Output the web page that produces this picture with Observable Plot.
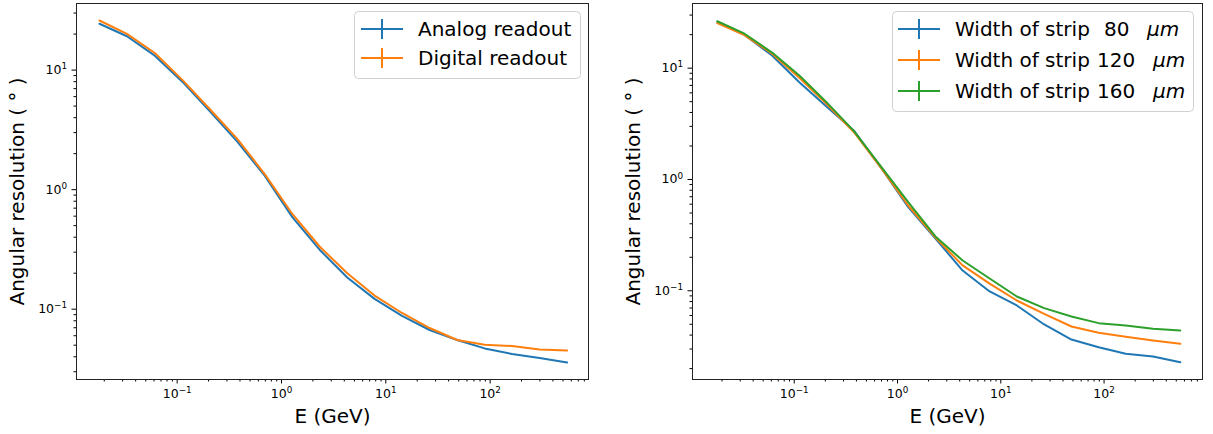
<!DOCTYPE html>
<html>
<head>
<meta charset="utf-8">
<script src="https://cdn.jsdelivr.net/npm/d3@7"></script>
<script src="https://cdn.jsdelivr.net/npm/@observablehq/plot@0.6"></script>
<style>
  html, body { margin: 0; padding: 0; background: #fff; }
  #wrap { position: relative; width: 1213px; height: 434px; overflow: hidden; font-family: "DejaVu Sans", sans-serif; }
  #wrap > .panel { position: absolute; top: 0; }
  #legend { position: absolute; left: 0; top: 0; pointer-events: none; }
</style>
</head>
<body>
<div id="wrap"></div>
<script>
// ---- data ----
const energy = [0.018, 0.033, 0.061, 0.112, 0.205, 0.377, 0.69, 1.27, 2.33, 4.27, 7.8, 14.3, 26.3, 48.3, 88.6, 162, 298, 547];
const analog  = [24.4, 19.2, 13.2, 8.0, 4.54, 2.52, 1.31, 0.589, 0.313, 0.184, 0.122, 0.088, 0.067, 0.0553, 0.047, 0.0422, 0.0391, 0.0359];
const digital = [26.0, 20.1, 13.9, 8.28, 4.73, 2.66, 1.35, 0.626, 0.333, 0.200, 0.130, 0.093, 0.0696, 0.0553, 0.0505, 0.0492, 0.0461, 0.0452];
const strip80  = [25.9, 19.9, 13.0, 7.48, 4.53, 2.76, 1.28, 0.564, 0.295, 0.152, 0.0986, 0.0738, 0.0498, 0.0365, 0.0311, 0.0272, 0.0257, 0.0228];
const strip120 = [25.4, 19.8, 13.5, 8.2, 4.79, 2.67, 1.28, 0.584, 0.301, 0.169, 0.116, 0.0818, 0.0621, 0.0478, 0.042, 0.0386, 0.0357, 0.0334];
const strip160 = [26.4, 20.4, 13.8, 8.6, 4.95, 2.73, 1.31, 0.625, 0.308, 0.187, 0.129, 0.0889, 0.0698, 0.0588, 0.0512, 0.0488, 0.0456, 0.044];

const xMajor = [0.1, 1, 10, 100];
const xMajorLabels = ["10^\u22121", "10^0", "10^1", "10^2"];
const yMajor = [0.1, 1, 10];
const yMajorLabels = ["10^\u22121", "10^0", "10^1"];

const leftNames = ["Analog readout", "Digital readout"];
const rightWidths = ["80", "120", "160"];
const colors = ["#1f77b4", "#ff7f0e", "#2ca02c"];

const xLabel = "E (GeV)";
const yLabel = "Angular resolution ( \u00B0 )";

// minor log ticks
function minors(lo, hi) {
  const out = [];
  for (let e = -3; e <= 3; e++) for (let m = 2; m <= 9; m++) {
    const v = m * Math.pow(10, e);
    if (v >= lo && v <= hi) out.push(v);
  }
  return out;
}
function labelFor(ticks, labels) { return d => labels[ticks.findIndex(t => Math.abs(t - d) / t < 1e-9)]; }

function panel({width, marginLeft, marginRight, xDomain, yDomain, series, ylabelDx}) {
  const rows = [];
  series.forEach((s, si) => energy.forEach((e, i) => rows.push({e, v: s.values[i], k: si})));
  const svg = Plot.plot({
    width, height: 434,
    marginLeft, marginRight, marginTop: 3, marginBottom: 55,
    style: {fontFamily: "'DejaVu Sans', sans-serif", fontSize: "12.5px", color: "#000", background: "transparent", overflow: "visible"},
    x: {type: "log", domain: xDomain},
    y: {type: "log", domain: yDomain},
    marks: [
      Plot.axisX({ticks: minors(xDomain[0], xDomain[1]), tickSize: 2.5, tickFormat: () => "", label: null, anchor: "bottom"}),
      Plot.axisX({ticks: xMajor, tickSize: 4.5, tickPadding: 5, tickFormat: labelFor(xMajor, xMajorLabels), label: null, anchor: "bottom", fontSize: 12.5}),
      Plot.axisY({ticks: minors(yDomain[0], yDomain[1]), tickSize: 2.5, tickFormat: () => "", label: null, anchor: "left"}),
      Plot.axisY({ticks: yMajor, tickSize: 4.5, tickPadding: 5, tickFormat: labelFor(yMajor, yMajorLabels), label: null, anchor: "left", fontSize: 12.5}),
      ...series.map((s, si) => Plot.line(rows.filter(r => r.k === si), {x: "e", y: "v", stroke: s.color, strokeWidth: 2})),
      Plot.frame({stroke: "#222", strokeWidth: 1}),
      Plot.text([xLabel], {frameAnchor: "bottom", lineAnchor: "middle", textAnchor: "middle", dy: 37, fontSize: 20, fill: "#000"}),
      Plot.text([yLabel], {frameAnchor: "left", lineAnchor: "middle", textAnchor: "middle", rotate: -90, dx: ylabelDx, fontSize: 20, fill: "#000"})
    ]
  });
  // turn "10^k" tick labels into base + superscript
  d3.select(svg).selectAll("text").each(function() {
    const txt = this.textContent;
    const m = /^10\^(.+)$/.exec(txt);
    if (!m) return;
    const sel = d3.select(this);
    sel.text(null);
    sel.append("tspan").text("10");
    sel.append("tspan").attr("font-size", "8.8px").attr("dy", "-0.55em").text(m[1]);
  });
  return svg;
}

const wrap = document.getElementById("wrap");

const left = panel({
  width: 606, marginLeft: 76, marginRight: 18,
  xDomain: [Math.pow(10, -1.965), Math.pow(10, 2.943)],
  yDomain: [Math.pow(10, -1.588), Math.pow(10, 1.557)],
  series: [{values: analog, color: colors[0]}, {values: digital, color: colors[1]}],
  ylabelDx: -59
});
left.classList.add("panel");
left.style.left = "0px";
wrap.appendChild(left);

const right = panel({
  width: 607, marginLeft: 86, marginRight: 11,
  xDomain: [Math.pow(10, -1.985), Math.pow(10, 2.953)],
  yDomain: [Math.pow(10, -1.797), Math.pow(10, 1.581)],
  series: [{values: strip80, color: colors[0]}, {values: strip120, color: colors[1]}, {values: strip160, color: colors[2]}],
  ylabelDx: -58.5
});
right.classList.add("panel");
right.style.left = "606px";
wrap.appendChild(right);

// ---- legends ----
const svg = d3.select(wrap).append("svg").attr("id", "legend").attr("width", 1213).attr("height", 434)
  .style("font-family", "'DejaVu Sans', sans-serif");

function legendBox(x0, y0, x1, y1) {
  svg.append("rect").attr("x", x0 + 0.5).attr("y", y0 + 0.5).attr("width", x1 - x0).attr("height", y1 - y0)
    .attr("rx", 4).attr("fill", "#fff").attr("fill-opacity", 0.8).attr("stroke", "#d0d0d0").attr("stroke-width", 1);
}
function handle(x0, x1, y, color) {
  const g = svg.append("g").attr("stroke", color).attr("stroke-width", 2);
  g.append("line").attr("x1", x0).attr("x2", x1).attr("y1", y).attr("y2", y);
  const cx = (x0 + x1) / 2;
  g.append("line").attr("x1", cx).attr("x2", cx).attr("y1", y - 10).attr("y2", y + 10);
}

// left legend
legendBox(354, 11, 580, 78);
[29, 58].forEach((y, i) => {
  handle(361, 403, y, colors[i]);
  svg.append("text").attr("x", 418).attr("y", y).attr("dy", "0.35em").attr("font-size", 20).attr("fill", "#000").text(leftNames[i]);
});

// right legend
legendBox(892, 11, 1193, 111);
[29, 60, 91].forEach((y, i) => {
  handle(898, 940, y, colors[i]);
  const t = svg.append("text").attr("y", y).attr("dy", "0.35em").attr("font-size", 20).attr("fill", "#000");
  t.append("tspan").attr("x", 955).text("Width of strip");
  t.append("tspan").attr("x", i === 0 ? 1104 : 1097).text(rightWidths[i]);
  t.append("tspan").attr("x", i === 0 ? 1147 : 1153).attr("font-style", "italic").text("\u03BCm");
});
</script>
</body>
</html>
